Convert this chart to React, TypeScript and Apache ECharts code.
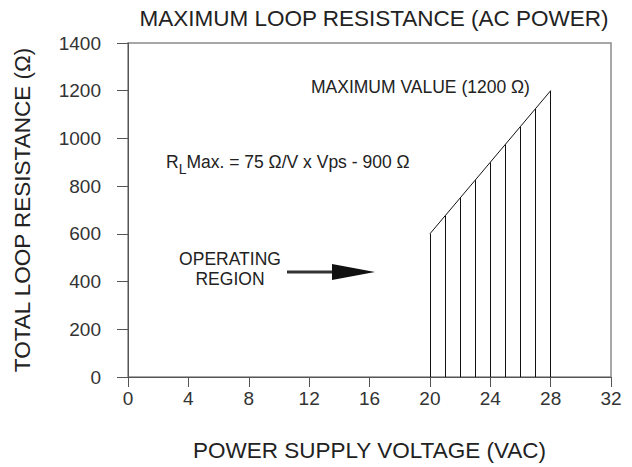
import React, { useEffect, useRef } from "react";
import * as echarts from "echarts";

const voltages = [20, 21, 22, 23, 24, 25, 26, 27, 28];
const maxResistance = [600, 675, 750, 825, 900, 975, 1050, 1125, 1200];
const xTicks = [0, 4, 8, 12, 16, 20, 24, 28, 32];
const yTicks = [0, 200, 400, 600, 800, 1000, 1200, 1400];

const FONT = "Liberation Sans, Arial, sans-serif";
const TXT = "#222";

export default function App() {
  const ref = useRef<HTMLDivElement>(null);
  useEffect(() => {
    if (!ref.current) return;
    const chart = echarts.init(ref.current, null, { renderer: "svg" });
    const vlines = voltages.map((v, i) => [
      { coord: [v, 0] },
      { coord: [v, maxResistance[i]] },
    ]);
    chart.setOption({
      animation: false,
      backgroundColor: "#fff",
      textStyle: { fontFamily: FONT },
      title: {
        text: "MAXIMUM LOOP RESISTANCE (AC POWER)",
        left: 369,
        textAlign: "center",
        top: 2,
        textStyle: { fontFamily: FONT, fontSize: 22.5, fontWeight: "normal", color: TXT },
      },
      grid: {
        left: 128,
        right: 21,
        top: 43,
        bottom: 86,
        show: true,
        borderColor: "#8a8a8a",
        borderWidth: 1.5,
      },
      xAxis: {
        type: "value",
        min: xTicks[0],
        max: xTicks[xTicks.length - 1],
        interval: 4,
        name: "POWER SUPPLY VOLTAGE (VAC)",
        nameLocation: "middle",
        nameGap: 62,
        nameTextStyle: { fontFamily: FONT, fontSize: 22.5, color: TXT },
        axisLine: { show: true, onZero: false, lineStyle: { color: "#555", width: 1 } },
        axisTick: { show: true, length: 10, lineStyle: { color: "#555" } },
        axisLabel: { fontFamily: FONT, fontSize: 19, color: "#333", margin: 12 },
        splitLine: { show: false },
      },
      yAxis: {
        type: "value",
        min: yTicks[0],
        max: yTicks[yTicks.length - 1],
        interval: 200,
        name: "TOTAL LOOP RESISTANCE (Ω)",
        nameLocation: "middle",
        nameGap: 94,
        nameTextStyle: { fontFamily: FONT, fontSize: 22.5, color: TXT },
        axisLine: { show: true, onZero: false, lineStyle: { color: "#555", width: 1 } },
        axisTick: { show: true, length: 11, lineStyle: { color: "#555" } },
        axisLabel: {
          fontFamily: FONT,
          fontSize: 19,
          color: "#333",
          margin: 27,
          formatter: (v: number) => String(v),
        },
        splitLine: { show: false },
      },
      series: [
        {
          type: "line",
          data: voltages.map((v, i) => [v, maxResistance[i]]),
          symbol: "none",
          lineStyle: { color: "#111", width: 1 },
          markLine: {
            silent: true,
            symbol: ["none", "none"],
            label: { show: false },
            lineStyle: { color: "#111", width: 1, type: "solid" },
            data: vlines,
          },
        },
      ],
      graphic: [
        {
          type: "text",
          x: 311,
          y: 87,
          style: {
            text: "MAXIMUM VALUE (1200 Ω)",
            fontFamily: FONT,
            fontSize: 17.5,
            fill: TXT,
            verticalAlign: "middle",
          },
        },
        {
          type: "text",
          x: 166,
          y: 153,
          style: {
            text: "{a|R}{b|L}{a|Max. = 75 Ω/V x Vps - 900 Ω}",
            fontFamily: FONT,
            fill: TXT,
            rich: {
              a: { fontFamily: FONT, fontSize: 17.5, color: TXT, lineHeight: 22, verticalAlign: "top" },
              b: { fontFamily: FONT, fontSize: 14, color: TXT, lineHeight: 22, padding: [9, 0, 0, 0], verticalAlign: "top" },
            },
          },
        },
        {
          type: "text",
          x: 230,
          y: 269,
          style: {
            text: "OPERATING\nREGION",
            fontFamily: FONT,
            fontSize: 17.5,
            lineHeight: 20,
            align: "center",
            verticalAlign: "middle",
            fill: TXT,
          },
        },
        {
          type: "line",
          shape: { x1: 287, y1: 272, x2: 336, y2: 272 },
          style: { stroke: "#333", lineWidth: 3 },
        },
        {
          type: "polygon",
          shape: { points: [[332, 264], [375, 272], [332, 280]] },
          style: { fill: "#111" },
        },
      ],
    });
    return () => chart.dispose();
  }, []);
  return (
    <div
      ref={ref}
      style={{ position: "fixed", left: 0, top: 0, width: 632, height: 467 }}
    />
  );
}
